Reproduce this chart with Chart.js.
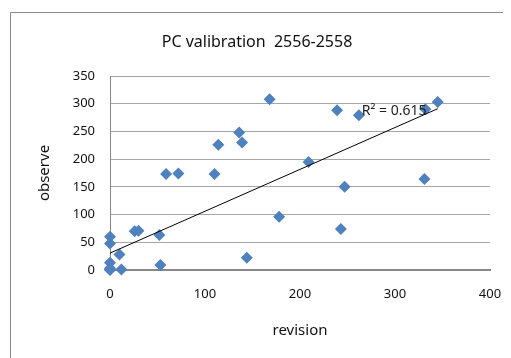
<!DOCTYPE html>
<html lang="en">
<head>
    <meta charset="UTF-8">
    <title>PC valibration 2556-2558</title>
    <style>
        body { margin: 0; background: #fff; }
        #wrap { width: 511px; height: 358px; }
    </style>
</head>
<body>
    <div id="wrap"><canvas id="myChart"></canvas></div>
    <script src="https://cdn.jsdelivr.net/npm/chart.js@4.4.0/dist/chart.umd.min.js"></script>
    <script>
        // revision (x) vs observe (y)
        const revision = [0, 0, 0, 0, 12, 10, 0, 0, 26, 30, 52, 53, 59, 72, 110, 114, 136, 139, 144, 168, 178, 209, 239, 262, 247, 243, 331, 332, 345];
        const observe = [0, 3, 13, 48, 1, 28, 60, 1, 70, 71, 63, 9, 173, 174, 173, 226, 248, 230, 22, 308, 96, 195, 288, 279, 150, 74, 164, 290, 303];

        // linear trendline end points and its label
        const trendX = [0, 345];
        const trendY = [30.5, 291];
        const r2Label = 'R² = 0.615';
        const r2At = [265, 287.5];

        const chartTitle = 'PC valibration  2556-2558';
        const xTicks = [0, 100, 200, 300, 400];
        const yTicks = [0, 50, 100, 150, 200, 250, 300, 350];

        const fontName = '"Noto Sans", sans-serif';

        // frame line, title and R² text
        const extras = {
            id: 'extras',
            beforeDraw(chart) {
                const ctx = chart.ctx;
                ctx.save();
                ctx.fillStyle = '#fff';
                ctx.fillRect(0, 0, chart.width, chart.height);
                ctx.strokeStyle = '#8a8a8a';
                ctx.lineWidth = 1;
                ctx.beginPath();
                ctx.moveTo(10.5, 358);
                ctx.lineTo(10.5, 12.5);
                ctx.lineTo(503, 12.5);
                ctx.stroke();
                ctx.font = '16px ' + fontName;
                ctx.fillStyle = '#111';
                ctx.textAlign = 'center';
                ctx.textBaseline = 'middle';
                ctx.fillText(chartTitle, 257, 42);
                ctx.restore();
            },
            afterDatasetsDraw(chart) {
                const ctx = chart.ctx;
                const x = chart.scales.x.getPixelForValue(r2At[0]);
                const y = chart.scales.y.getPixelForValue(r2At[1]);
                ctx.save();
                ctx.font = '14px ' + fontName;
                ctx.fillStyle = '#222';
                ctx.textAlign = 'left';
                ctx.textBaseline = 'middle';
                ctx.fillText(r2Label, x, y);
                ctx.restore();
            }
        };

        const ctx = document.getElementById('myChart').getContext('2d');
        const chart = new Chart(ctx, {
            type: 'scatter',
            data: {
                datasets: [{
                    label: 'observe',
                    data: revision.map((v, i) => ({ x: v, y: observe[i] })),
                    pointStyle: 'rectRot',
                    pointRadius: 6,
                    pointBackgroundColor: '#4f81bd',
                    pointBorderColor: '#4f81bd',
                    pointBorderWidth: 0,
                    clip: false,
                    order: 2
                }, {
                    label: 'trend',
                    type: 'line',
                    data: trendX.map((v, i) => ({ x: v, y: trendY[i] })),
                    borderColor: '#000',
                    borderWidth: 1,
                    pointRadius: 0,
                    fill: false,
                    clip: false,
                    order: 1
                }]
            },
            options: {
                responsive: true,
                maintainAspectRatio: false,
                animation: false,
                layout: { padding: { left: 0, right: 21, top: 76, bottom: 0 } },
                plugins: {
                    legend: { display: false },
                    tooltip: { enabled: false },
                    title: { display: false }
                },
                scales: {
                    x: {
                        type: 'linear',
                        min: 0,
                        max: 400,
                        afterBuildTicks: s => { s.ticks = xTicks.map(v => ({ value: v })); },
                        afterFit: s => { s.height = 88; s.paddingLeft = 0; s.paddingRight = 0; },
                        grid: { display: false, drawTicks: false },
                        border: { display: true, color: '#888', width: 2 },
                        ticks: { padding: 16, color: '#111', font: { family: fontName, size: 13 } },
                        title: {
                            display: true,
                            text: 'revision',
                            color: '#111',
                            font: { family: fontName, size: 15 },
                            padding: { top: 0, bottom: 18 }
                        }
                    },
                    y: {
                        type: 'linear',
                        min: 0,
                        max: 350,
                        afterBuildTicks: s => { s.ticks = yTicks.map(v => ({ value: v })); },
                        afterFit: s => { s.width = 110; },
                        grid: { color: '#a6a6a6', lineWidth: 1, drawTicks: false },
                        border: { display: true, color: '#888', width: 1 },
                        ticks: { padding: 15, color: '#111', font: { family: fontName, size: 13 } },
                        title: {
                            display: true,
                            text: 'observe',
                            color: '#111',
                            font: { family: fontName, size: 15 },
                            padding: { top: 36, bottom: 0 }
                        }
                    }
                }
            },
            plugins: [extras]
        });
    </script>
</body>
</html>
